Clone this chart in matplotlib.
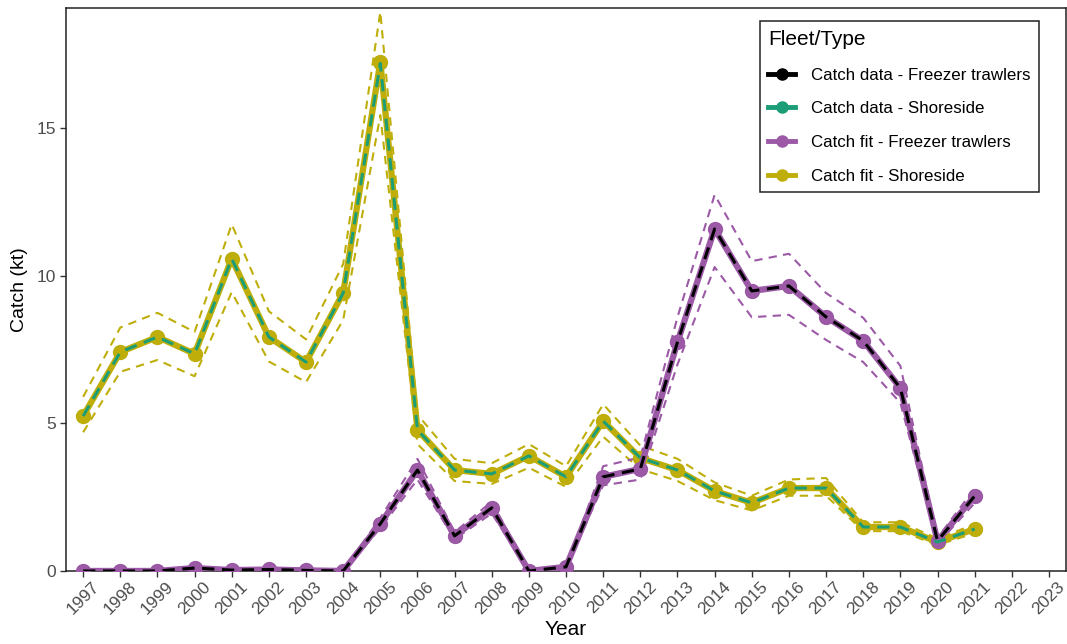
import matplotlib
matplotlib.use("Agg")
import matplotlib.pyplot as plt
from matplotlib.lines import Line2D
import numpy as np

plt.rcParams['font.family'] = ['Liberation Sans', 'DejaVu Sans']

years = list(range(1997, 2022))

shore_data = [5.25, 7.42, 7.93, 7.36, 10.58, 7.93, 7.08, 9.42, 17.2, 4.78,
              3.42, 3.29, 3.90, 3.19, 5.08, 3.83, 3.42, 2.71, 2.31, 2.81,
              2.81, 1.49, 1.49, 0.98, 1.42]
shore_fit = [5.25, 7.42, 7.93, 7.36, 10.58, 7.93, 7.08, 9.42, 17.25, 4.78,
             3.42, 3.29, 3.90, 3.19, 5.08, 3.83, 3.42, 2.71, 2.31, 2.81,
             2.81, 1.49, 1.49, 0.98, 1.42]
shore_upper = [5.9, 8.25, 8.75, 8.1, 11.75, 8.8, 7.85, 10.4, 18.95, 5.3,
               3.8, 3.65, 4.3, 3.55, 5.65, 4.25, 3.8, 3.0, 2.55, 3.1,
               3.15, 1.65, 1.65, 1.1, 1.58]
shore_lower = [4.7, 6.75, 7.15, 6.6, 9.45, 7.1, 6.4, 8.5, 15.45, 4.3,
               3.05, 2.95, 3.5, 2.85, 4.55, 3.45, 3.05, 2.4, 2.05, 2.55,
               2.55, 1.35, 1.35, 0.88, 1.28]

frz_data = [0.0, 0.0, 0.0, 0.1, 0.03, 0.05, 0.02, 0.0, 1.6, 3.42,
            1.19, 2.14, 0.0, 0.14, 3.19, 3.46, 7.76, 11.59, 9.49, 9.66,
            8.61, 7.8, 6.2, 1.02, 2.54]
frz_fit = [0.0, 0.0, 0.0, 0.1, 0.03, 0.05, 0.02, 0.0, 1.6, 3.42,
           1.19, 2.14, 0.0, 0.14, 3.19, 3.46, 7.76, 11.59, 9.49, 9.66,
           8.61, 7.8, 6.2, 1.02, 2.54]
frz_upper = [0.0, 0.0, 0.0, 0.11, 0.035, 0.055, 0.025, 0.0, 1.8, 3.8,
             1.32, 2.35, 0.0, 0.16, 3.55, 3.85, 8.6, 12.75, 10.5, 10.75,
             9.42, 8.58, 6.95, 1.12, 2.8]
frz_lower = [0.0, 0.0, 0.0, 0.09, 0.025, 0.045, 0.015, 0.0, 1.45, 3.1,
             1.08, 1.95, 0.0, 0.12, 2.9, 3.1, 7.0, 10.3, 8.6, 8.68,
             7.83, 7.08, 5.7, 0.92, 2.3]

tick_years = list(range(1997, 2024))
y_ticks = [0, 5, 10, 15]

c_black = "#000000"
c_teal = "#1b9e77"
c_purple = "#9b59a6"
c_olive = "#bfae0a"

fig = plt.figure(figsize=(10.67, 6.44), dpi=100)
ax = fig.add_axes([0.0619, 0.1134, 0.9372, 0.8742])

# CI lines
for up, lo, col in [(shore_upper, shore_lower, c_olive), (frz_upper, frz_lower, c_purple)]:
    ax.plot(years, up, color=col, lw=1.5, ls=(0, (4, 3)), zorder=2)
    ax.plot(years, lo, color=col, lw=1.5, ls=(0, (4, 3)), zorder=2)

# data markers underneath
ax.plot(years, frz_data, color=c_black, lw=0, marker='o', ms=9, zorder=3)
ax.plot(years, shore_data, color=c_teal, lw=0, marker='o', ms=9, zorder=3)

# fit lines
ax.plot(years, shore_fit, color=c_olive, lw=4.5, marker='o', ms=10, zorder=4,
        solid_capstyle='round')
ax.plot(years, frz_fit, color=c_purple, lw=4.5, marker='o', ms=10, zorder=4,
        solid_capstyle='round')

# data dashed lines on top
ax.plot(years, shore_data, color=c_teal, lw=2.2, ls=(0, (4, 2.5)), zorder=5)
ax.plot(years, frz_data, color=c_black, lw=2.2, ls=(0, (4, 2.5)), zorder=5)

ax.set_xlim(1996.54, 2023.46)
ax.set_ylim(0, 19.08)
ax.set_xticks(tick_years)
ax.set_xticklabels([str(y) for y in tick_years], rotation=45, ha='center', va='top')
ax.set_yticks(y_ticks)
ax.set_yticklabels([str(v) for v in y_ticks])
ax.tick_params(axis='both', colors='#333333', labelcolor='#4d4d4d', labelsize=12.5,
               length=4, width=1)
ax.tick_params(axis='x', pad=2)

for s in ax.spines.values():
    s.set_color('#222222')
    s.set_linewidth(1.1)

ax.set_xlabel("Year", fontsize=15, labelpad=2)
ax.set_ylabel("Catch (kt)", fontsize=14, labelpad=6)

handles = [
    Line2D([], [], color=c_black, lw=3.5, marker='o', ms=8),
    Line2D([], [], color=c_teal, lw=3.5, marker='o', ms=8),
    Line2D([], [], color=c_purple, lw=3.5, marker='o', ms=8),
    Line2D([], [], color=c_olive, lw=3.5, marker='o', ms=8),
]
labels = ["Catch data - Freezer trawlers", "Catch data - Shoreside",
          "Catch fit - Freezer trawlers", "Catch fit - Shoreside"]
leg = ax.legend(handles, labels, title="Fleet/Type", loc='upper right',
                bbox_to_anchor=(0.9725, 0.976), borderaxespad=0,
                fontsize=12.2, title_fontsize=15,
                frameon=True, fancybox=False, framealpha=1, edgecolor='#222222',
                handlelength=1.6, handletextpad=0.9, labelspacing=1.1,
                borderpad=0.5, alignment='left')
leg.get_frame().set_linewidth(1.1)

fig.savefig("out.png", dpi=100)
